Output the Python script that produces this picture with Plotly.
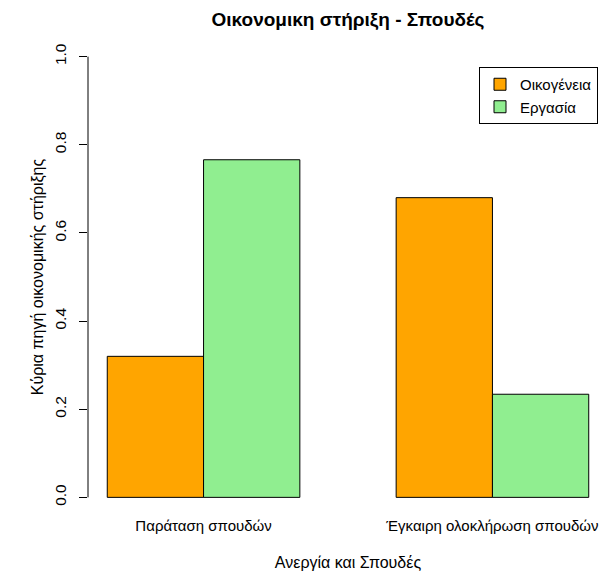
import plotly.graph_objects as go

categories = ["Παράταση σπουδών", "Έγκαιρη ολοκλήρωση σπουδών"]
family = [0.32, 0.68]
work = [0.766, 0.234]
series_names = ["Οικογένεια", "Εργασία"]
y_ticks = [0.0, 0.2, 0.4, 0.6, 0.8, 1.0]
y_tick_labels = ["0.0", "0.2", "0.4", "0.6", "0.8", "1.0"]

FONT = "Liberation Sans, Arial, sans-serif"
centers = [2 + 3 * i for i in range(len(categories))]

fig = go.Figure()
fig.add_trace(go.Bar(x=[c - 0.5 for c in centers], y=family, width=1, name=series_names[0],
                     marker=dict(color="#FFA500", line=dict(color="black", width=1))))
fig.add_trace(go.Bar(x=[c + 0.5 for c in centers], y=work, width=1, name=series_names[1],
                     marker=dict(color="#90EE90", line=dict(color="black", width=1))))

fig.add_shape(type="line", xref="paper", yref="y", x0=0, x1=0, y0=0, y1=1,
              line=dict(color="black", width=1))

# page body has an 8px margin, so figure coordinates are offset by 8px
fig.update_layout(
    width=608, height=576,
    barmode="overlay",
    plot_bgcolor="white", paper_bgcolor="white",
    margin=dict(l=80, r=8, t=31, b=69, autoexpand=False),
    font=dict(family=FONT, size=15, color="black"),
    title=dict(text="<b>Οικονομικη στήριξη - Σπουδές</b>", x=(348 - 8) / 608, xanchor="center",
               y=1 - 11 / 576, yanchor="middle", font=dict(size=19)),
    xaxis=dict(range=[0.8, 6.2], tickvals=centers, ticktext=categories, showgrid=False,
               zeroline=False, showline=False, ticks="", ticklabelstandoff=0, automargin=False,
               tickfont=dict(size=15),
               title=dict(text="Ανεργία και Σπουδές", standoff=23, font=dict(size=16))),
    yaxis=dict(range=[-0.04, 1.04], tickvals=y_ticks, ticktext=y_tick_labels, tickangle=-90,
               showgrid=False, zeroline=False, showline=False, ticks="outside", ticklen=8,
               tickcolor="black", tickwidth=1, automargin=False, ticklabelstandoff=7,
               tickfont=dict(size=15.5),
               title=dict(text="Κύρια πηγή οικονομικής στήριξης", standoff=4, font=dict(size=16))),
    legend=dict(x=(590 - 80) / 520, xanchor="right", y=(507 - 59) / 476, yanchor="top",
                bordercolor="black", borderwidth=1, bgcolor="white",
                font=dict(size=15), tracegroupgap=0, itemwidth=30),
    showlegend=True,
)

fig.write_html("out.html")
